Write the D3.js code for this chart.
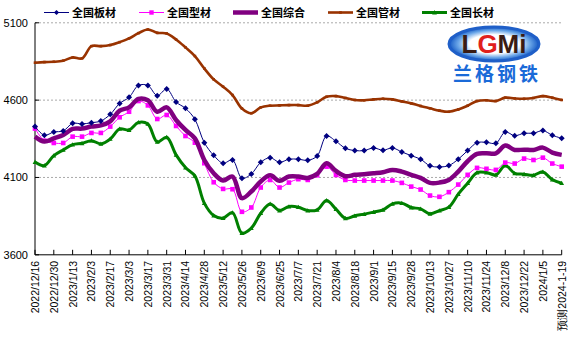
<!DOCTYPE html>
<html><head><meta charset="utf-8">
<script src="https://cdnjs.cloudflare.com/ajax/libs/d3/7.8.5/d3.min.js"></script>
<style>body{margin:0;background:#fff}svg{display:block}</style>
</head><body><svg id="c" width="570" height="356"></svg>
<script>
const xLabels = ["2022/12/16","2022/12/30","2023/1/13","2023/2/3","2023/2/17","2023/3/3","2023/3/17","2023/3/31","2023/4/14","2023/4/28","2023/5/12","2023/5/26","2023/6/9","2023/6/25","2023/7/7","2023/7/21","2023/8/4","2023/8/18","2023/9/1","2023/9/15","2023/9/28","2023/10/13","2023/10/27","2023/11/10","2023/11/24","2023/12/8","2023/12/22","2024/1/5","预测2024-1-19"];
const yTicks = [3600, 4100, 4600, 5100];
const seriesNames = ["全国板材","全国型材","全国综合","全国管材","全国长材"];
const banCai = [4429,4373,4394,4401,4450,4446,4454,4465,4508,4579,4618,4695,4695,4629,4672,4588,4547,4476,4325,4243,4192,4213,4095,4123,4198,4228,4198,4218,4218,4211,4239,4368,4334,4289,4274,4274,4291,4276,4291,4265,4241,4218,4175,4168,4177,4218,4274,4325,4327,4321,4394,4370,4386,4386,4403,4373,4353];
const xingCai = [4416,4338,4323,4323,4364,4364,4388,4388,4429,4489,4525,4594,4566,4478,4504,4433,4368,4325,4192,4069,4026,4024,3878,3906,4035,4084,4035,4067,4089,4084,4114,4170,4116,4084,4080,4080,4080,4080,4080,4065,4041,4022,3983,3975,4005,4054,4117,4162,4156,4149,4196,4190,4222,4213,4228,4190,4170];
const zongHe = [4364,4332,4353,4375,4414,4416,4429,4437,4463,4532,4553,4608,4599,4525,4553,4472,4407,4353,4213,4127,4080,4106,3966,4009,4074,4114,4078,4106,4106,4097,4123,4192,4142,4108,4117,4121,4127,4134,4149,4138,4117,4097,4065,4067,4084,4138,4205,4252,4256,4256,4306,4278,4280,4278,4293,4261,4246];
const guanCai = [4842,4846,4848,4855,4876,4870,4949,4949,4956,4975,4999,5033,5057,5035,5031,4992,4941,4885,4805,4734,4687,4633,4546,4515,4553,4564,4566,4568,4568,4564,4586,4622,4626,4614,4601,4599,4605,4609,4605,4592,4579,4562,4547,4532,4525,4540,4564,4594,4599,4594,4616,4611,4609,4614,4626,4616,4601];
const changCai = [4200,4177,4241,4278,4312,4321,4338,4317,4349,4414,4407,4456,4446,4330,4360,4246,4164,4110,3934,3854,3837,3873,3740,3772,3869,3929,3886,3912,3908,3886,3891,3951,3895,3836,3852,3863,3876,3891,3929,3934,3906,3897,3865,3886,3908,3992,4063,4132,4132,4117,4177,4127,4121,4114,4136,4086,4063];

const svg = d3.select("#c");
const L = 35, R = 561.7, T = 22.8, B = 254.8;
const x = d3.scaleLinear().domain([0, banCai.length - 1]).range([L, R]);
const y = d3.scaleLinear().domain([3600, 5100]).range([B, T]);

// gridlines
svg.append("g").selectAll("line").data(yTicks.filter(d => d > 3600)).join("line")
  .attr("x1", L).attr("x2", R).attr("y1", d => y(d)).attr("y2", d => y(d))
  .attr("stroke", "#aaa").attr("stroke-width", 1).attr("stroke-dasharray", "2,2");

// logo
const lg = svg.append("g");
const grad = svg.append("defs").append("radialGradient").attr("id","lgGrad");
grad.append("stop").attr("offset","55%").attr("stop-color","#ffffff");
grad.append("stop").attr("offset","80%").attr("stop-color","#6aa6e8");
grad.append("stop").attr("offset","100%").attr("stop-color","#1559c4");
lg.append("ellipse").attr("cx", 494).attr("cy", 44).attr("rx", 45).attr("ry", 17).attr("fill", "url(#lgGrad)");
lg.append("ellipse").attr("cx", 494).attr("cy", 44).attr("rx", 45).attr("ry", 17).attr("fill", "none").attr("stroke","#1f5fc8").attr("stroke-width",3);
const lt = lg.append("text").attr("x", 494).attr("y", 53).attr("text-anchor","middle")
  .attr("font-family","Liberation Sans, Arial, sans-serif").attr("font-weight","bold").attr("font-size", 26).attr("font-style","normal");
lt.append("tspan").attr("fill","#3a1c14").text("L");
lt.append("tspan").attr("fill","#e0201c").text("G");
lt.append("tspan").attr("fill","#3a1c14").text("Mi");
lg.append("text").attr("x", 497).attr("y", 81).attr("text-anchor","middle")
  .attr("font-family","Noto Sans CJK SC").attr("font-weight","bold").attr("font-size", 19)
  .attr("fill","#1a6ad8").attr("letter-spacing", 3).text("兰格钢铁");

// axes lines
svg.append("line").attr("x1", L).attr("x2", L).attr("y1", T).attr("y2", B).attr("stroke","#000").attr("stroke-width",1);
svg.append("line").attr("x1", L).attr("x2", R).attr("y1", B).attr("y2", B).attr("stroke","#000").attr("stroke-width",1);
svg.append("g").selectAll("line").data(yTicks).join("line")
  .attr("x1", L).attr("x2", L + 4).attr("y1", d => y(d)).attr("y2", d => y(d)).attr("stroke","#000");
svg.append("g").selectAll("text").data(yTicks).join("text")
  .attr("x", 28).attr("y", d => y(d) + 4).attr("text-anchor","end")
  .attr("font-family","Liberation Sans, Arial, sans-serif").attr("font-size", 11).attr("fill","#000").text(d => d);

const labIdx = xLabels.map((d, i) => i * 2);
svg.append("g").selectAll("line").data(labIdx).join("line")
  .attr("x1", d => x(d)).attr("x2", d => x(d)).attr("y1", B).attr("y2", B - 5).attr("stroke","#000");
svg.append("g").selectAll("text").data(xLabels).join("text")
  .attr("transform", (d, i) => `translate(${x(i*2) + 4},${B + 6}) rotate(-90)`)
  .attr("text-anchor","end")
  .attr("font-family","Liberation Sans, Arial, sans-serif").attr("font-size", 10.5).attr("fill","#000").text(d => d);

// series
const curve = d3.curveCatmullRom.alpha(0.5);
const line = d3.line().x((d, i) => x(i)).y(d => y(d)).curve(curve);
function diamond(g, cx, cy, s, c){ g.append("path").attr("d", `M${cx},${cy-s}L${cx+s},${cy}L${cx},${cy+s}L${cx-s},${cy}Z`).attr("fill", c); }
function square(g, cx, cy, s, c){ g.append("rect").attr("x", cx-s).attr("y", cy-s).attr("width", 2*s).attr("height", 2*s).attr("fill", c); }
function tri(g, cx, cy, s, c){ g.append("path").attr("d", `M${cx},${cy-s}L${cx+s},${cy+s*0.8}L${cx-s},${cy+s*0.8}Z`).attr("fill", c); }

const specs = [
  {data: guanCai, color:"#993300", w:2.6, mk:(g,cx,cy)=>square(g,cx,cy,1.3,"#993300")},
  {data: changCai, color:"#008000", w:3, mk:(g,cx,cy)=>tri(g,cx,cy,2.4,"#008000")},
  {data: xingCai, color:"#ff00ff", w:1, mk:(g,cx,cy)=>square(g,cx,cy,2.3,"#ff00ff")},
  {data: zongHe, color:"#800080", w:4.5, mk:null},
  {data: banCai, color:"#000080", w:1, mk:(g,cx,cy)=>diamond(g,cx,cy,3,"#000080")}
];
specs.forEach(s => {
  const g = svg.append("g");
  g.append("path").attr("d", line(s.data)).attr("fill","none").attr("stroke", s.color).attr("stroke-width", s.w).attr("stroke-linejoin","round");
  if (s.mk) s.data.forEach((v, i) => s.mk(g, x(i), y(v)));
});

// legend
const legend = [
  {name: seriesNames[0], color:"#000080", w:1, x0:44, mk:(g,cx,cy)=>diamond(g,cx,cy,2.6,"#000080")},
  {name: seriesNames[1], color:"#ff00ff", w:1, x0:139, mk:(g,cx,cy)=>square(g,cx,cy,2.2,"#ff00ff")},
  {name: seriesNames[2], color:"#800080", w:4.5, x0:233, mk:null},
  {name: seriesNames[3], color:"#993300", w:2.6, x0:328, mk:(g,cx,cy)=>square(g,cx,cy,1.3,"#993300")},
  {name: seriesNames[4], color:"#008000", w:3, x0:422, mk:(g,cx,cy)=>tri(g,cx,cy,2.4,"#008000")}
];
legend.forEach(l => {
  const g = svg.append("g");
  g.append("line").attr("x1", l.x0).attr("x2", l.x0 + 25).attr("y1", 12.5).attr("y2", 12.5).attr("stroke", l.color).attr("stroke-width", l.w);
  if (l.mk) l.mk(g, l.x0 + 12.5, 12.5);
  g.append("text").attr("x", l.x0 + 28).attr("y", 16.5).attr("font-family","Noto Sans CJK SC").attr("font-weight","bold")
    .attr("font-size", 11).attr("fill","#000").text(l.name);
});
</script></body></html>
